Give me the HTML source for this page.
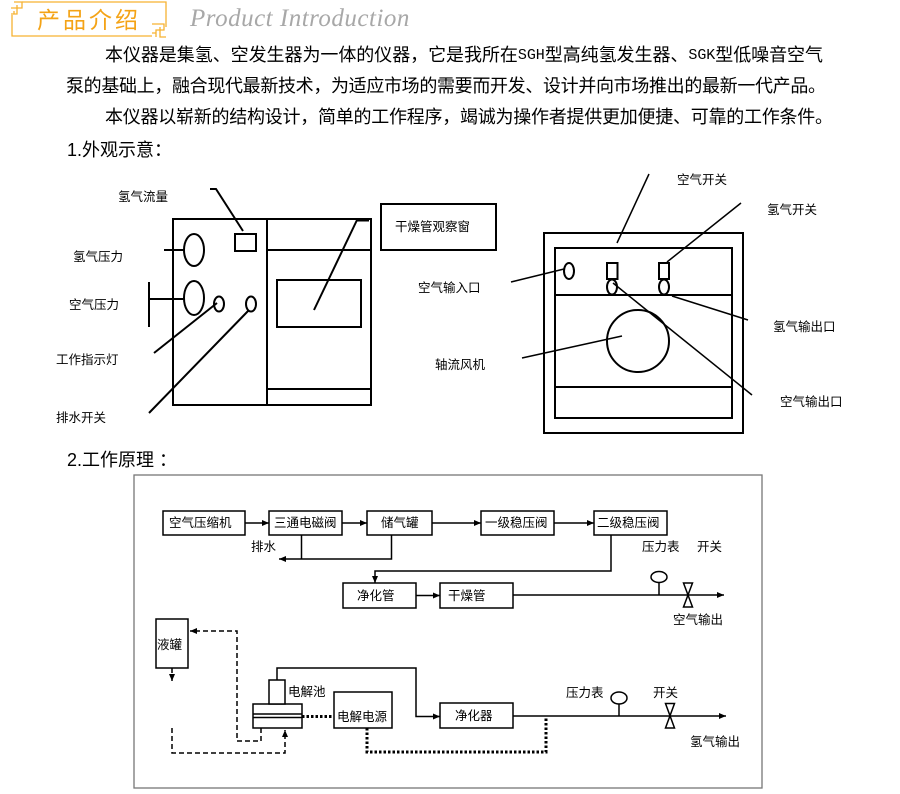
<!DOCTYPE html>
<html><head><meta charset="utf-8">
<style>
html,body{margin:0;padding:0;background:#fff;}
body{width:900px;height:794px;overflow:hidden;}
svg{display:block;}
.t{font-family:"Liberation Sans","Noto Sans CJK SC",sans-serif;font-size:12.5px;fill:#000;dominant-baseline:central;}
.p{font-family:"Liberation Sans","Noto Sans CJK SC",sans-serif;font-size:18px;fill:#000;dominant-baseline:central;}
</style></head>
<body>
<svg width="900" height="794" viewBox="0 0 900 794" xmlns="http://www.w3.org/2000/svg">
<defs>
<marker id="ah" markerWidth="8" markerHeight="8" refX="7" refY="4" orient="auto" markerUnits="userSpaceOnUse">
<path d="M0,1 L7,4 L0,7 Z" fill="#000"/>
</marker>
</defs>

<!-- Header -->
<g stroke="#f6b232" stroke-width="1.3" fill="none">
<path d="M22,2 L166,2 L166,27"/>
<path d="M12,15 L12,36 L152,36"/>
<path d="M14,2 L22,2 L22,8 L11,8 M17,5 L17,14 L11,14 M14,11 L14,14"/>
<path d="M152,24 L164,24 L164,30 L156,30 L156,37 M160,27 L160,37 L166,37 M152,33 L156,33"/>
</g>
<text x="37" y="20" font-family="'Liberation Sans','Noto Sans CJK SC',sans-serif" font-size="23" fill="#f4a316" letter-spacing="3" dominant-baseline="central">产品介绍</text>
<text x="190" y="26" font-family="'Liberation Serif',serif" font-style="italic" font-size="25" fill="#a8a8a8" letter-spacing="0.5">Product Introduction</text>

<!-- Paragraphs -->
<text class="p" x="105" y="55" textLength="718" lengthAdjust="spacing">本仪器是集氢、空发生器为一体的仪器，它是我所在<tspan font-family="'Liberation Mono',monospace" font-size="15">SGH</tspan>型高纯氢发生器、<tspan font-family="'Liberation Mono',monospace" font-size="15">SGK</tspan>型低噪音空气</text>
<text class="p" x="66" y="86" textLength="760" lengthAdjust="spacing">泵的基础上，融合现代最新技术，为适应市场的需要而开发、设计并向市场推出的最新一代产品。</text>
<text class="p" x="105" y="117" textLength="728" lengthAdjust="spacing">本仪器以崭新的结构设计，简单的工作程序，竭诚为操作者提供更加便捷、可靠的工作条件。</text>
<text class="p" x="67" y="150">1.外观示意：</text>

<!-- Diagram 1 left device -->
<g stroke="#000" stroke-width="2" fill="none">
<rect x="173" y="219" width="198" height="186"/>
<line x1="267" y1="219" x2="267" y2="405"/>
<line x1="267" y1="250" x2="371" y2="250"/>
<line x1="267" y1="389" x2="371" y2="389"/>
<rect x="277" y="280" width="84" height="47"/>
<rect x="235" y="234" width="21" height="17"/>
<ellipse cx="194" cy="250" rx="10" ry="16"/>
<ellipse cx="194" cy="298" rx="10" ry="17"/>
<ellipse cx="219" cy="304" rx="5" ry="7.5"/>
<ellipse cx="251" cy="304" rx="5" ry="7.5"/>
<polyline points="210,189 216,189 243,231"/>
<line x1="164" y1="250" x2="184" y2="250"/>
<line x1="149" y1="282" x2="149" y2="327"/>
<line x1="149" y1="299" x2="184" y2="299"/>
<line x1="154" y1="353" x2="217" y2="303"/>
<line x1="149" y1="413" x2="249" y2="310"/>
<rect x="381" y="204" width="115" height="46"/>
<line x1="314" y1="310" x2="357" y2="220"/>
<line x1="356" y1="220" x2="369" y2="220" stroke-width="3"/>
</g>
<text class="t" x="118" y="197">氢气流量</text>
<text class="t" x="73" y="257">氢气压力</text>
<text class="t" x="69" y="305">空气压力</text>
<text class="t" x="56" y="360">工作指示灯</text>
<text class="t" x="56" y="418">排水开关</text>
<text class="t" x="395" y="227">干燥管观察窗</text>

<!-- Diagram 1 right device -->
<g stroke="#000" stroke-width="2" fill="none">
<rect x="544" y="233" width="199" height="200"/>
<rect x="555" y="248" width="177" height="170"/>
<line x1="555" y1="295" x2="732" y2="295"/>
<line x1="555" y1="387" x2="732" y2="387"/>
<ellipse cx="569" cy="271" rx="5" ry="8"/>
<rect x="607" y="263" width="10.5" height="16"/>
<ellipse cx="612" cy="287" rx="5" ry="7.5"/>
<rect x="659" y="263" width="10" height="16"/>
<ellipse cx="664" cy="287" rx="5" ry="7.5"/>
<circle cx="638" cy="341" r="31"/>
</g>
<g stroke="#000" stroke-width="1.5">
<line x1="649" y1="174" x2="617" y2="243"/>
<line x1="741" y1="203" x2="667" y2="262"/>
<line x1="511" y1="282" x2="564" y2="269"/>
<line x1="672" y1="296" x2="748" y2="320"/>
<line x1="613" y1="283" x2="752" y2="395"/>
<line x1="522" y1="358" x2="622" y2="336"/>
</g>
<text class="t" x="677" y="180">空气开关</text>
<text class="t" x="767" y="210">氢气开关</text>
<text class="t" x="418" y="288">空气输入口</text>
<text class="t" x="773" y="327">氢气输出口</text>
<text class="t" x="435" y="365">轴流风机</text>
<text class="t" x="780" y="402">空气输出口</text>

<!-- Section 2 title -->
<text class="p" x="67" y="460">2.工作原理 ：</text>

<!-- Diagram 2 frame -->
<rect x="134" y="475" width="628" height="313" fill="none" stroke="#777" stroke-width="1.3"/>

<g stroke="#000" stroke-width="1.5" fill="#fff">
<rect x="163" y="511" width="82" height="24"/>
<rect x="269" y="511" width="73" height="24"/>
<rect x="367" y="511" width="65" height="24"/>
<rect x="481" y="511" width="73" height="24"/>
<rect x="594" y="511" width="73" height="24"/>
<rect x="343" y="583" width="73" height="25"/>
<rect x="440" y="583" width="73" height="25"/>
<rect x="156" y="619" width="32" height="49"/>
<rect x="253" y="704" width="49" height="24"/>
<rect x="269" y="680" width="16" height="24"/>
<rect x="334" y="692" width="58" height="36"/>
<rect x="440" y="703" width="73" height="25"/>
</g>
<g stroke="#000" stroke-width="1.5" fill="none">
<line x1="253" y1="714" x2="302" y2="714"/>
<line x1="253" y1="717.5" x2="302" y2="717.5"/>
<line x1="245" y1="523" x2="269" y2="523" marker-end="url(#ah)"/>
<line x1="342" y1="523" x2="367" y2="523" marker-end="url(#ah)"/>
<line x1="432" y1="523" x2="481" y2="523" marker-end="url(#ah)"/>
<line x1="554" y1="523" x2="594" y2="523" marker-end="url(#ah)"/>
<line x1="301.5" y1="535" x2="301.5" y2="559"/>
<polyline points="391.5,535 391.5,559 279,559" marker-end="url(#ah)"/>
<polyline points="611,535 611,571 375,571 375,583" marker-end="url(#ah)"/>
<line x1="416" y1="595.5" x2="440" y2="595.5" marker-end="url(#ah)"/>
<line x1="513" y1="595" x2="724" y2="595" marker-end="url(#ah)"/>
<line x1="659" y1="582.5" x2="659" y2="595"/>
<polyline points="277,680 277,668 416,668 416,716.5 440,716.5" marker-end="url(#ah)"/>
<line x1="513" y1="716" x2="726" y2="716" marker-end="url(#ah)"/>
<line x1="619" y1="704" x2="619" y2="716"/>
</g>
<g stroke="#000" stroke-width="1.5" fill="#fff">
<ellipse cx="659" cy="577" rx="8" ry="5.5"/>
<path d="M683.5,583 L692.5,583 L683.5,607 L692.5,607 Z"/>
<ellipse cx="619" cy="698" rx="8" ry="6"/>
<path d="M665.5,703.5 L674.5,703.5 L665.5,728 L674.5,728 Z"/>
</g>
<!-- dashed lines -->
<g stroke="#000" stroke-width="1.5" fill="none" stroke-dasharray="5,3">
<polyline points="261,728 261,741 237,741 237,631 190,631" marker-end="url(#ah)"/>
<polyline points="172,728 172,753 285,753 285,730" marker-end="url(#ah)"/>
<line x1="172" y1="668" x2="172" y2="681" marker-end="url(#ah)"/>
</g>
<!-- dotted lines -->
<g stroke="#000" stroke-width="3" fill="none" stroke-dasharray="2.5,2">
<line x1="302" y1="716.5" x2="334" y2="716.5"/>
<polyline points="367,728 367,752 546,752 546,718"/>
</g>

<text class="t" x="169" y="523">空气压缩机</text>
<text class="t" x="274" y="523">三通电磁阀</text>
<text class="t" x="381" y="523">储气罐</text>
<text class="t" x="485" y="523">一级稳压阀</text>
<text class="t" x="597" y="523">二级稳压阀</text>
<text class="t" x="251" y="547">排水</text>
<text class="t" x="357" y="596">净化管</text>
<text class="t" x="448" y="596">干燥管</text>
<text class="t" x="642" y="547">压力表</text>
<text class="t" x="697" y="547">开关</text>
<text class="t" x="673" y="620">空气输出</text>
<text class="t" x="157" y="645">液罐</text>
<text class="t" x="288" y="692">电解池</text>
<text class="t" x="337" y="717">电解电源</text>
<text class="t" x="455" y="716">净化器</text>
<text class="t" x="566" y="693">压力表</text>
<text class="t" x="653" y="693">开关</text>
<text class="t" x="690" y="742">氢气输出</text>
</svg>
</body></html>
